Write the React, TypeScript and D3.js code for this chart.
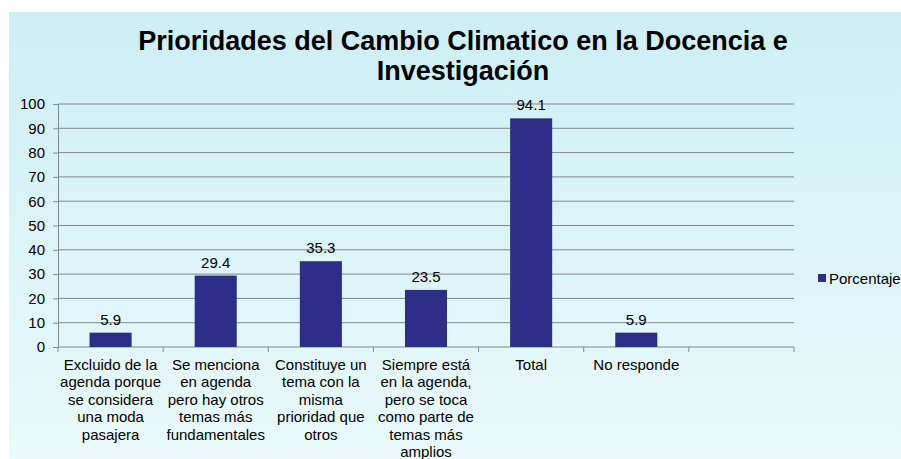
import { useEffect, useRef } from "react"
import * as d3 from "d3"

const categories = [
  ["Excluido de la", "agenda porque", "se considera", "una moda", "pasajera"],
  ["Se menciona", "en agenda", "pero hay otros", "temas más", "fundamentales"],
  ["Constituye un", "tema con la", "misma", "prioridad que", "otros"],
  ["Siempre está", "en la agenda,", "pero se toca", "como parte de", "temas más", "amplios"],
  ["Total"],
  ["No responde"],
  [""],
]
const values: (number | null)[] = [5.9, 29.4, 35.3, 23.5, 94.1, 5.9, null]
const yTicks = [0, 10, 20, 30, 40, 50, 60, 70, 80, 90, 100]
const seriesName = "Porcentaje"
const titleLines = ["Prioridades del Cambio Climatico en la Docencia e", "Investigación"]

const W = 901
const H = 459
const FONT = "Liberation Sans, Arial, sans-serif"
const BAR = "#2E2D88"
const GRID = "#85898B"

export default function App() {
  const svgRef = useRef<SVGSVGElement>(null)

  useEffect(() => {
    if (!svgRef.current) return
    const svg = d3.select(svgRef.current)
    svg.selectAll("*").remove()

    const defs = svg.append("defs")
    const grad = defs
      .append("linearGradient")
      .attr("id", "bg")
      .attr("x1", 0)
      .attr("y1", 0)
      .attr("x2", 0)
      .attr("y2", 1)
    grad.append("stop").attr("offset", "0%").attr("stop-color", "#CCEFF3")
    grad.append("stop").attr("offset", "100%").attr("stop-color", "#EAFAFB")

    svg.append("rect").attr("width", W).attr("height", H).attr("fill", "#ffffff")
    svg
      .append("rect")
      .attr("x", 9)
      .attr("y", 12)
      .attr("width", W - 9)
      .attr("height", H - 12)
      .attr("fill", "url(#bg)")

    const margin = { top: 104, left: 58, right: W - 794, bottom: H - 347 }
    const innerWidth = W - margin.left - margin.right
    const innerHeight = H - margin.top - margin.bottom

    // title
    const title = svg
      .append("text")
      .attr("text-anchor", "middle")
      .attr("font-family", FONT)
      .attr("font-weight", "bold")
      .attr("font-size", 27)
      .attr("fill", "#000")
    titleLines.forEach((t, i) => {
      title
        .append("tspan")
        .attr("x", 463)
        .attr("y", 50 + i * 30)
        .text(t)
    })

    const g = svg.append("g").attr("transform", `translate(${margin.left},${margin.top})`)

    const x = d3
      .scaleBand<number>()
      .domain(categories.map((_, i) => i))
      .range([0, innerWidth])
      .padding(0)

    const y = d3.scaleLinear().domain([0, 100]).range([innerHeight, 0])

    // gridlines
    g.selectAll(".grid")
      .data(yTicks.filter((t) => t > 0))
      .enter()
      .append("line")
      .attr("x1", 0)
      .attr("x2", innerWidth)
      .attr("y1", (d) => y(d))
      .attr("y2", (d) => y(d))
      .attr("stroke", GRID)
      .attr("stroke-width", 1)

    // y axis
    const yAxis = g
      .append("g")
      .call(d3.axisLeft(y).tickValues(yTicks).tickSize(5).tickPadding(8))
    yAxis.select(".domain").attr("stroke", GRID)
    yAxis.selectAll(".tick line").attr("stroke", GRID)
    yAxis
      .selectAll(".tick text")
      .attr("font-family", FONT)
      .attr("font-size", 15)
      .attr("fill", "#000")

    // x axis
    const xAxisG = g.append("g").attr("transform", `translate(0,${innerHeight})`)
    xAxisG
      .append("line")
      .attr("x1", 0)
      .attr("x2", innerWidth)
      .attr("stroke", GRID)
    const bounds = categories.map((_, i) => x(i) as number).concat([innerWidth])
    xAxisG
      .selectAll(".xt")
      .data(bounds)
      .enter()
      .append("line")
      .attr("x1", (d) => d)
      .attr("x2", (d) => d)
      .attr("y1", 0)
      .attr("y2", 5)
      .attr("stroke", GRID)

    xAxisG
      .selectAll(".xl")
      .data(categories)
      .enter()
      .append("text")
      .attr("text-anchor", "middle")
      .attr("font-family", FONT)
      .attr("font-size", 15)
      .attr("fill", "#000")
      .each(function (lines, i) {
        const t = d3.select(this)
        lines.forEach((l, j) => {
          t.append("tspan")
            .attr("x", (x(i) as number) + x.bandwidth() / 2)
            .attr("y", 23 + j * 17.4)
            .text(l)
        })
      })

    // bars
    const barW = x.bandwidth() * 0.4
    const barData = values
      .map((v, i) => ({ v, i }))
      .filter((d) => d.v !== null) as { v: number; i: number }[]

    g.selectAll(".bar")
      .data(barData)
      .enter()
      .append("rect")
      .attr("x", (d) => (x(d.i) as number) + (x.bandwidth() - barW) / 2)
      .attr("width", barW)
      .attr("y", (d) => y(d.v))
      .attr("height", (d) => innerHeight - y(d.v))
      .attr("fill", BAR)

    g.selectAll(".lbl")
      .data(barData)
      .enter()
      .append("text")
      .attr("x", (d) => (x(d.i) as number) + x.bandwidth() / 2)
      .attr("y", (d) => y(d.v) - 8)
      .attr("text-anchor", "middle")
      .attr("font-family", FONT)
      .attr("font-size", 15)
      .attr("fill", "#000")
      .text((d) => d.v.toFixed(1))

    // legend
    const lg = svg.append("g").attr("transform", "translate(818,274)")
    lg.append("rect").attr("width", 8).attr("height", 8).attr("fill", BAR)
    lg.append("text")
      .attr("x", 11)
      .attr("y", 9.5)
      .attr("font-family", FONT)
      .attr("font-size", 15)
      .attr("fill", "#000")
      .text(seriesName)
  }, [])

  return (
    <div style={{ position: "absolute", left: 0, top: 0, width: W, height: H }}>
      <svg ref={svgRef} width={W} height={H} style={{ display: "block" }} />
    </div>
  )
}
